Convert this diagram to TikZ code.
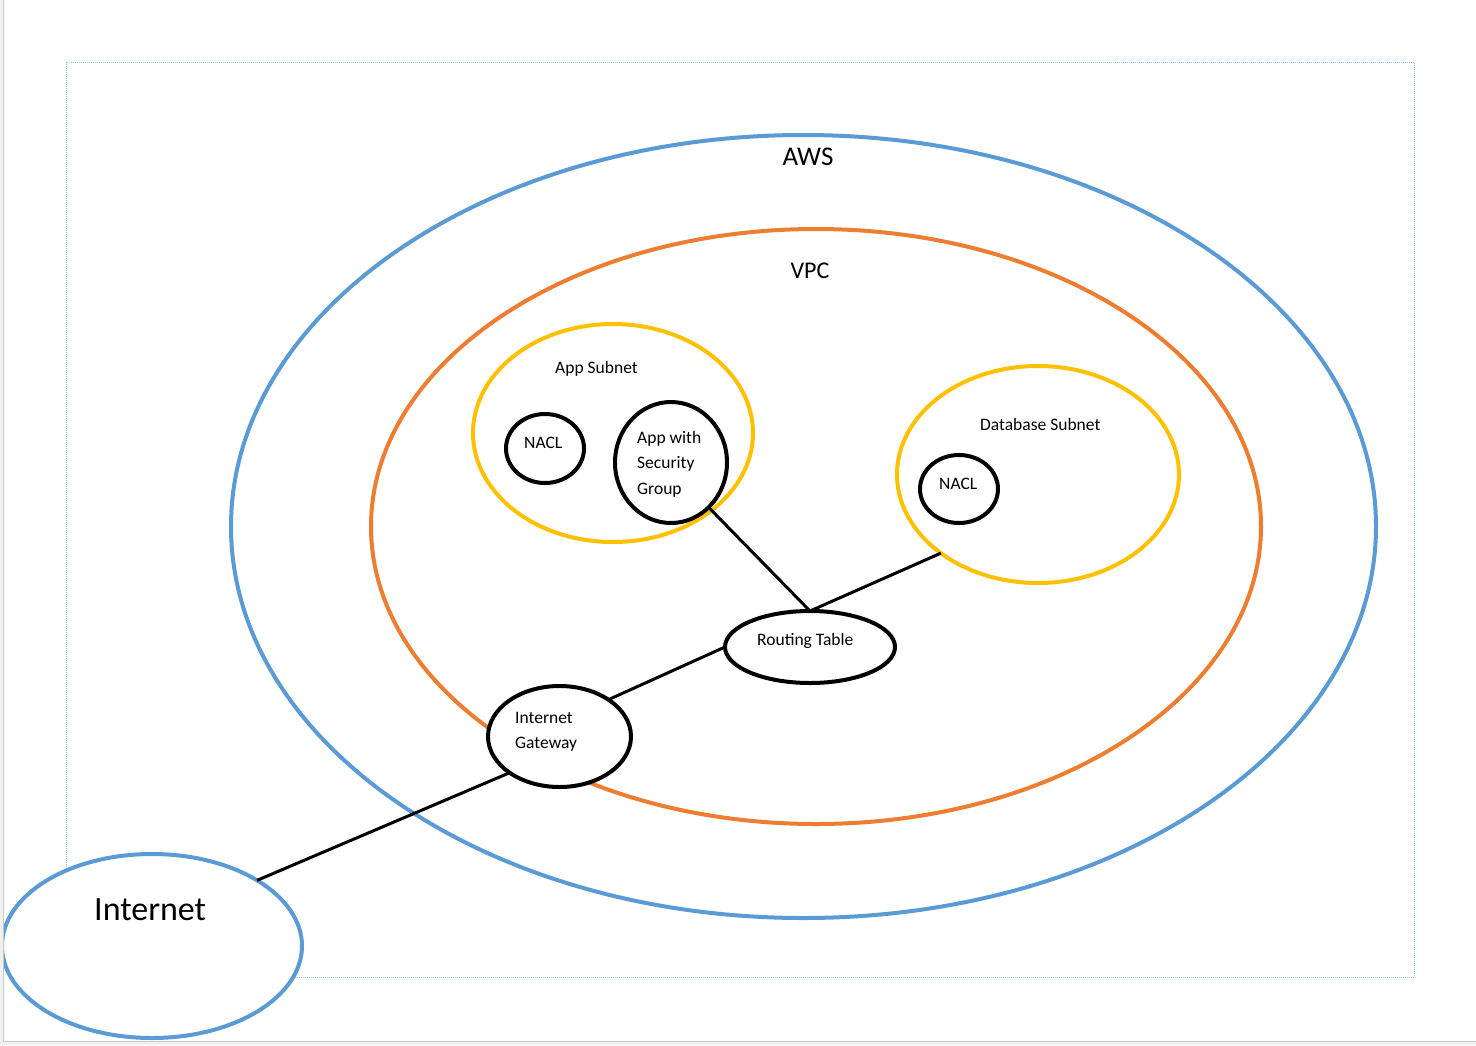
\documentclass[tikz,border=0pt]{standalone}
\usepackage{fontspec}
\setmainfont{Carlito}
\usetikzlibrary{shapes.geometric}
\definecolor{awsblue}{RGB}{91,155,213}
\definecolor{vpcorange}{RGB}{237,125,49}
\definecolor{subyellow}{RGB}{255,192,0}
\definecolor{dotblue}{RGB}{140,200,240}
\definecolor{edgegray}{RGB}{200,200,200}
\definecolor{padgray}{RGB}{240,240,240}
\tikzset{
  ring/.style={ellipse, inner sep=0pt, outer sep=0pt, line width=4pt},
  bluering/.style={ring, draw=awsblue},
  orangering/.style={ring, draw=vpcorange},
  yellowring/.style={ring, draw=subyellow},
  blackring/.style={ring, draw=black, fill=white},
  link/.style={draw=black, line width=3pt},
  smalltxt/.style={inner sep=0pt, font=\fontsize{17.5}{17.5}\selectfont},
}
\begin{document}
\begin{tikzpicture}[x=1pt,y=-1pt]
\useasboundingbox (0,0) rectangle (1476,1045);
\fill[white] (0,0) rectangle (1476,1045);
% page frame
\draw[dotblue, line width=1pt, dash pattern=on 1pt off 1pt] (66,62) rectangle (1414,977);
% outer containers
\node[bluering, minimum width=1145pt, minimum height=783pt] (aws) at (803.5,526.5) {};
\node[orangering, minimum width=890pt, minimum height=595pt] (vpc) at (816,526.5) {};
\node[yellowring, fill=white, minimum width=280pt, minimum height=218pt] (appsub) at (613,433) {};
\node[yellowring, fill=white, minimum width=282pt, minimum height=217pt] (dbsub) at (1038,474.5) {};
% inner nodes
\node[blackring, minimum width=78pt, minimum height=69pt] (nacl1) at (545,448.5) {};
\node[blackring, minimum width=112pt, minimum height=121pt] (sg) at (671,462.5) {};
\node[blackring, minimum width=78pt, minimum height=68pt] (nacl2) at (959,489) {};
\node[blackring, minimum width=170pt, minimum height=72pt] (rt) at (810,647) {};
\node[blackring, minimum width=143pt, minimum height=101pt] (igw) at (559.5,736.5) {};
\node[bluering, fill=white, minimum width=300pt, minimum height=184pt] (inet) at (152,946) {};
% connectors
\draw[link] (sg.310) -- (rt.north);
\draw[link] (dbsub.219) -- (rt.north);
\draw[link] (rt.west) -- (igw.37);
\draw[link] (igw.216) -- (inet.32);
% labels
\node[inner sep=0pt, font=\fontsize{27}{27}\selectfont, anchor=base] (awsl) at (808,165) {AWS};
\node[inner sep=0pt, font=\fontsize{24}{24}\selectfont, anchor=base] (vpcl) at (810,278) {VPC};
\node[smalltxt, anchor=base west] (appsubl) at (555,373) {App Subnet};
\node[smalltxt, anchor=base west] (dbsubl) at (980,430) {Database Subnet};
\node[smalltxt, anchor=base west] (nacl1l) at (524,448) {NACL};
\node[smalltxt, anchor=base west] (nacl2l) at (939,489) {NACL};
\node[smalltxt, anchor=base west] (sgl1) at (637,443) {App with};
\node[smalltxt, anchor=base west] (sgl2) at (637,468) {Security};
\node[smalltxt, anchor=base west] (sgl3) at (637,494) {Group};
\node[smalltxt, anchor=base west] (rtl) at (757,645) {Routing Table};
\node[smalltxt, anchor=base west] (igwl1) at (515,723) {Internet};
\node[smalltxt, anchor=base west] (igwl2) at (515,748) {Gateway};
\node[inner sep=0pt, font=\fontsize{34}{34}\selectfont, anchor=base west] (inetl) at (94,920) {Internet};
% window edges
\fill[padgray] (0,0) rectangle (3,1045);
\fill[padgray] (0,1041) rectangle (1476,1045);
\draw[edgegray, line width=1pt] (3.5,0) -- (3.5,1041.5) -- (1476,1041.5);
\end{tikzpicture}
\end{document}
